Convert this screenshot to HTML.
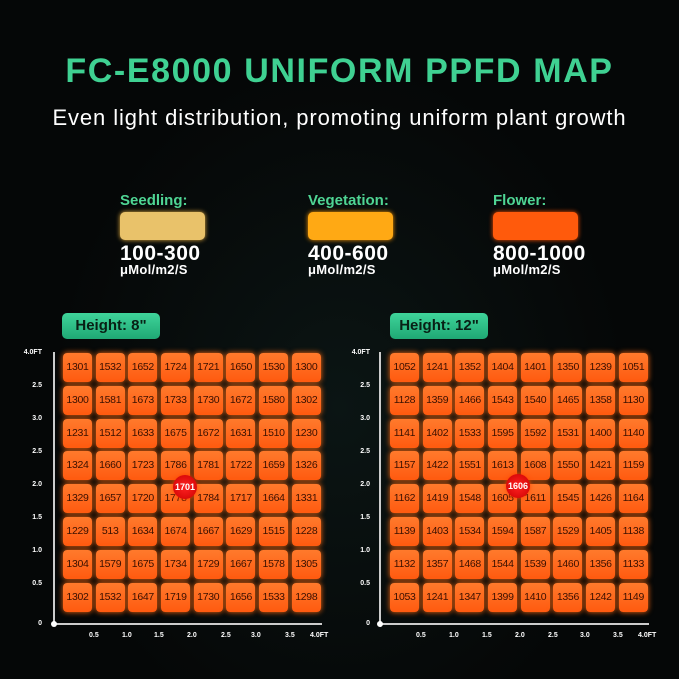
<!DOCTYPE html>
<html><head><meta charset="utf-8"><style>
*{margin:0;padding:0;box-sizing:border-box}
body{width:679px;height:679px;overflow:hidden;background:#050707;font-family:"Liberation Sans",sans-serif;position:relative}
.bg{position:absolute;inset:0;background:radial-gradient(ellipse at 50% 60%,#0b1514 0%,#050707 60%),#050707}
.a{position:absolute}
.title{left:0;width:679px;top:52px;text-align:center;font-weight:bold;font-size:34px;color:#3fd192;letter-spacing:1.6px}
.sub{left:0;width:679px;top:105px;text-align:center;font-size:22px;color:#fff;letter-spacing:0.9px}
.lab{font-weight:bold;font-size:15px;color:#4fd594}
.box{width:85px;height:28px;border-radius:5px}
.num{font-weight:bold;font-size:21px;color:#fff;line-height:20px;letter-spacing:0.5px}
.unit{font-weight:bold;font-size:13px;color:#fff;letter-spacing:0.3px}
.btn{height:26px;width:98px;border-radius:5px;background:linear-gradient(#3fd49a,#1fa874);color:#082015;font-weight:bold;font-size:15px;text-align:center;line-height:26px}
.grid{display:grid;grid-template-columns:repeat(8,29px);grid-auto-rows:29px;gap:3.8px 3.7px}
.grid div{background:linear-gradient(#ff7a2c,#ff5a10);border-radius:4px;box-shadow:0 0 6px #ff6a10;font-size:10.5px;color:#3a1000;text-align:center;line-height:29px;letter-spacing:-0.3px}
.yl{font-size:7px;color:#fff;font-weight:bold;text-align:right;width:30px}
.xl{font-size:7px;color:#fff;font-weight:bold}
.badge{width:24px;height:24px;border-radius:50%;background:radial-gradient(#f22,#c00);color:#fff;font-size:9px;font-weight:bold;text-align:center;line-height:24px;box-shadow:0 0 4px #f40}
</style></head><body>
<div class="bg"></div>
<div class="a title">FC-E8000 UNIFORM PPFD MAP</div>
<div class="a sub">Even light distribution, promoting uniform plant growth</div>

<div class="a lab" style="left:120px;top:192px">Seedling:</div>
<div class="a box" style="left:120px;top:212px;background:#e9c26a;box-shadow:0 0 5px #e8b040"></div>
<div class="a num" style="left:120px;top:244px">100-300</div>
<div class="a unit" style="left:120px;top:262px">μMol/m2/S</div>

<div class="a lab" style="left:308px;top:192px">Vegetation:</div>
<div class="a box" style="left:308px;top:212px;background:#ffa914;box-shadow:0 0 5px #ff9a00"></div>
<div class="a num" style="left:308px;top:244px">400-600</div>
<div class="a unit" style="left:308px;top:262px">μMol/m2/S</div>

<div class="a lab" style="left:493px;top:192px">Flower:</div>
<div class="a box" style="left:493px;top:212px;background:#ff5a0c;box-shadow:0 0 5px #ff5000"></div>
<div class="a num" style="left:493px;top:244px">800-1000</div>
<div class="a unit" style="left:493px;top:262px">μMol/m2/S</div>

<div class="a btn" style="left:62px;top:313px">Height: 8"</div>
<div class="a btn" style="left:390px;top:313px">Height: 12"</div>

<div class="a" style="left:53px;top:352px;width:1.5px;height:272px;background:#ccc"></div>
<div class="a" style="left:53px;top:623px;width:269px;height:1.5px;background:#ccc"></div>
<div class="a" style="left:51px;top:621px;width:6px;height:6px;border-radius:50%;background:#fff"></div>
<div class="a yl" style="left:12px;top:349px">4.0FT</div>
<div class="a yl" style="left:12px;top:382px">2.5</div>
<div class="a yl" style="left:12px;top:415px">3.0</div>
<div class="a yl" style="left:12px;top:448px">2.5</div>
<div class="a yl" style="left:12px;top:481px">2.0</div>
<div class="a yl" style="left:12px;top:514px">1.5</div>
<div class="a yl" style="left:12px;top:547px">1.0</div>
<div class="a yl" style="left:12px;top:580px">0.5</div>
<div class="a yl" style="left:12px;top:620px">0</div>
<div class="a xl" style="left:89px;top:632px">0.5</div>
<div class="a xl" style="left:122px;top:632px">1.0</div>
<div class="a xl" style="left:154px;top:632px">1.5</div>
<div class="a xl" style="left:187px;top:632px">2.0</div>
<div class="a xl" style="left:221px;top:632px">2.5</div>
<div class="a xl" style="left:251px;top:632px">3.0</div>
<div class="a xl" style="left:285px;top:632px">3.5</div>
<div class="a xl" style="left:310px;top:632px">4.0FT</div>

<div class="a" style="left:379px;top:352px;width:1.5px;height:272px;background:#ccc"></div>
<div class="a" style="left:379px;top:623px;width:270px;height:1.5px;background:#ccc"></div>
<div class="a" style="left:377px;top:621px;width:6px;height:6px;border-radius:50%;background:#fff"></div>
<div class="a yl" style="left:340px;top:349px">4.0FT</div>
<div class="a yl" style="left:340px;top:382px">2.5</div>
<div class="a yl" style="left:340px;top:415px">3.0</div>
<div class="a yl" style="left:340px;top:448px">2.5</div>
<div class="a yl" style="left:340px;top:481px">2.0</div>
<div class="a yl" style="left:340px;top:514px">1.5</div>
<div class="a yl" style="left:340px;top:547px">1.0</div>
<div class="a yl" style="left:340px;top:580px">0.5</div>
<div class="a yl" style="left:340px;top:620px">0</div>
<div class="a xl" style="left:416px;top:632px">0.5</div>
<div class="a xl" style="left:449px;top:632px">1.0</div>
<div class="a xl" style="left:482px;top:632px">1.5</div>
<div class="a xl" style="left:515px;top:632px">2.0</div>
<div class="a xl" style="left:548px;top:632px">2.5</div>
<div class="a xl" style="left:580px;top:632px">3.0</div>
<div class="a xl" style="left:613px;top:632px">3.5</div>
<div class="a xl" style="left:638px;top:632px">4.0FT</div>

<div class="a grid" style="left:63px;top:353px">
<div>1301</div><div>1532</div><div>1652</div><div>1724</div><div>1721</div><div>1650</div><div>1530</div><div>1300</div>
<div>1300</div><div>1581</div><div>1673</div><div>1733</div><div>1730</div><div>1672</div><div>1580</div><div>1302</div>
<div>1231</div><div>1512</div><div>1633</div><div>1675</div><div>1672</div><div>1631</div><div>1510</div><div>1230</div>
<div>1324</div><div>1660</div><div>1723</div><div>1786</div><div>1781</div><div>1722</div><div>1659</div><div>1326</div>
<div>1329</div><div>1657</div><div>1720</div><div>1778</div><div>1784</div><div>1717</div><div>1664</div><div>1331</div>
<div>1229</div><div>513</div><div>1634</div><div>1674</div><div>1667</div><div>1629</div><div>1515</div><div>1228</div>
<div>1304</div><div>1579</div><div>1675</div><div>1734</div><div>1729</div><div>1667</div><div>1578</div><div>1305</div>
<div>1302</div><div>1532</div><div>1647</div><div>1719</div><div>1730</div><div>1656</div><div>1533</div><div>1298</div>
</div>

<div class="a grid" style="left:390px;top:353px">
<div>1052</div><div>1241</div><div>1352</div><div>1404</div><div>1401</div><div>1350</div><div>1239</div><div>1051</div>
<div>1128</div><div>1359</div><div>1466</div><div>1543</div><div>1540</div><div>1465</div><div>1358</div><div>1130</div>
<div>1141</div><div>1402</div><div>1533</div><div>1595</div><div>1592</div><div>1531</div><div>1400</div><div>1140</div>
<div>1157</div><div>1422</div><div>1551</div><div>1613</div><div>1608</div><div>1550</div><div>1421</div><div>1159</div>
<div>1162</div><div>1419</div><div>1548</div><div>1605</div><div>1611</div><div>1545</div><div>1426</div><div>1164</div>
<div>1139</div><div>1403</div><div>1534</div><div>1594</div><div>1587</div><div>1529</div><div>1405</div><div>1138</div>
<div>1132</div><div>1357</div><div>1468</div><div>1544</div><div>1539</div><div>1460</div><div>1356</div><div>1133</div>
<div>1053</div><div>1241</div><div>1347</div><div>1399</div><div>1410</div><div>1356</div><div>1242</div><div>1149</div>
</div>

<div class="a badge" style="left:173px;top:475px">1701</div>
<div class="a badge" style="left:506px;top:474px">1606</div>
</body></html>
